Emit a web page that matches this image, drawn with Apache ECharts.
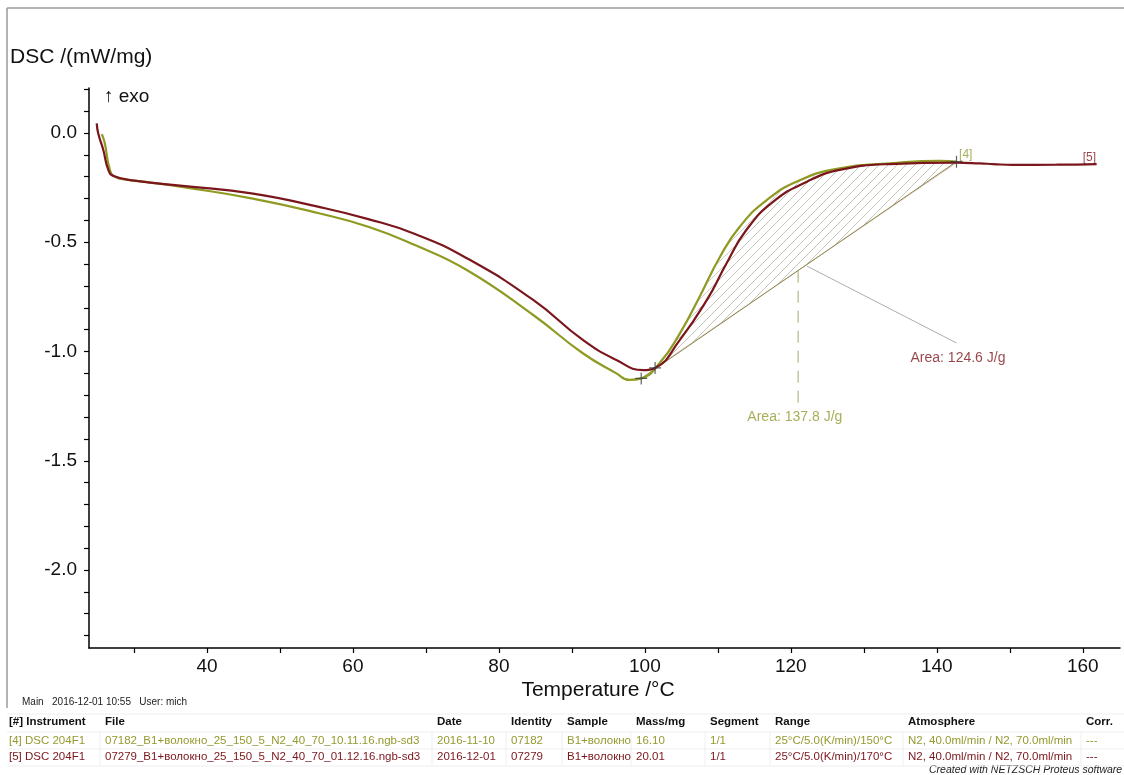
<!DOCTYPE html>
<html>
<head>
<meta charset="utf-8">
<script src="https://cdn.jsdelivr.net/npm/echarts@6/dist/echarts.min.js"></script>
<style>
html,body{margin:0;padding:0;background:#fff;}
#chart{width:1124px;height:775px;}
</style>
</head>
<body>
<div id="chart"></div>
<script>
// ---- data ----
const temp4 = [25.6, 26.0, 26.7, 27.4, 29.0, 32.4, 37.0, 46.1, 55.2, 62.1, 68.5, 75.6, 84.7, 91.5, 96.1, 97.9, 99.5, 102.0, 104.8, 107.5, 110.3, 113.0, 116.7, 121.3, 126.7, 133.6, 140.4, 142.7];
const dsc4  = [-0.005, -0.046, -0.169, -0.200, -0.213, -0.227, -0.249, -0.299, -0.366, -0.429, -0.513, -0.627, -0.833, -1.008, -1.100, -1.130, -1.123, -1.054, -0.917, -0.749, -0.566, -0.429, -0.307, -0.215, -0.162, -0.139, -0.127, -0.131];

const temp5 = [24.9, 25.1, 25.8, 26.5, 27.2, 30.1, 37.0, 46.1, 55.2, 62.1, 68.5, 75.6, 84.7, 91.5, 96.1, 99.8, 101.4, 104.8, 108.5, 111.2, 113.9, 117.6, 122.2, 126.7, 133.6, 142.7, 145.9, 147.7, 150.4, 156.4, 161.9];
const dsc5  = [0.044, -0.001, -0.078, -0.170, -0.197, -0.218, -0.243, -0.276, -0.337, -0.394, -0.462, -0.573, -0.764, -0.947, -1.039, -1.085, -1.075, -0.947, -0.764, -0.596, -0.444, -0.314, -0.223, -0.169, -0.142, -0.136, -0.139, -0.142, -0.146, -0.145, -0.142];

// integration limits (temperatures on each curve)
const limits4 = [99.5, 142.7];
const limits5 = [101.4, 142.7];

const xTickValues  = [30, 40, 50, 60, 70, 80, 90, 100, 110, 120, 130, 140, 150, 160];
const xLabelValues = [40, 60, 80, 100, 120, 140, 160];
const yTickValues  = [0.2, 0.1, 0.0, -0.1, -0.2, -0.3, -0.4, -0.5, -0.6, -0.7, -0.8, -0.9, -1.0, -1.1, -1.2, -1.3, -1.4, -1.5, -1.6, -1.7, -1.8, -1.9, -2.0, -2.1, -2.2, -2.3];
const yLabelValues = [0.0, -0.5, -1.0, -1.5, -2.0];

// annotations
const areaLabel4 = {text: 'Area: 137.8 J/g', at: [120.55, -1.300]};
const areaLabel5 = {text: 'Area: 124.6 J/g', at: [142.9, -1.030]};
const leader4 = [[121.0, -0.630], [121.0, -1.240]];
const leader5 = [[122.2, -0.609], [142.7, -0.961]];
const curveTag4 = {text: '[4]', at: [143.97, -0.101]};
const curveTag5 = {text: '[5]', at: [160.9, -0.114]};

const tableHeader = ['[#] Instrument', 'File', 'Date', 'Identity', 'Sample', 'Mass/mg', 'Segment', 'Range', 'Atmosphere', 'Corr.'];
const tableRow4 = ['[4] DSC 204F1', '07182_B1+волокно_25_150_5_N2_40_70_10.11.16.ngb-sd3', '2016-11-10', '07182', 'B1+волокно', '16.10', '1/1', '25°C/5.0(K/min)/150°C', 'N2, 40.0ml/min / N2, 70.0ml/min', '---'];
const tableRow5 = ['[5] DSC 204F1', '07279_B1+волокно_25_150_5_N2_40_70_01.12.16.ngb-sd3', '2016-12-01', '07279', 'B1+волокно', '20.01', '1/1', '25°C/5.0(K/min)/170°C', 'N2, 40.0ml/min / N2, 70.0ml/min', '---'];

// ---- styling ----
const OLIVE = '#8f9a22';
const OLIVE_TXT = '#949a2e';
const RED = '#7a161c';
const FONT = '"Liberation Sans", Arial, sans-serif';
const colX = [9, 105, 437, 511, 567, 636, 710, 775, 908, 1086];

function pairs(t, v) { return t.map((x, i) => [x, v[i]]); }
function pointAt(t, v, T) { const i = t.indexOf(T); return [t[i], v[i]]; }

// hatch pattern
const pat = document.createElement('canvas');
pat.width = 9; pat.height = 9;
(function () {
  const c = pat.getContext('2d');
  c.strokeStyle = '#c3c3b6';
  c.lineWidth = 0.8;
  c.beginPath();
  c.moveTo(0, 9); c.lineTo(9, 0);
  c.moveTo(-1, 1); c.lineTo(1, -1);
  c.moveTo(8, 10); c.lineTo(10, 8);
  c.stroke();
})();

function hatchSeries(t, v, lim) {
  return {
    type: 'custom', silent: true, z: 1,
    data: [[lim[0], v[t.indexOf(lim[0])]]],
    renderItem: function (params, api) {
      const pts = [];
      for (let i = 0; i < t.length; i++) {
        if (t[i] >= lim[0] && t[i] <= lim[1]) pts.push(api.coord([t[i], v[i]]));
      }
      return {type: 'polygon', shape: {points: pts}, style: {fill: {image: pat, repeat: 'repeat'}, stroke: 'none'}};
    }
  };
}

const crossSymbol = 'path://M0,6L12,6M6,0L6,12';

const graphics = [];
// frame
graphics.push({type: 'line', shape: {x1: 7, y1: 8, x2: 1124, y2: 8}, style: {stroke: '#9a9a9a', lineWidth: 1.5}});
graphics.push({type: 'line', shape: {x1: 7, y1: 8, x2: 7, y2: 708}, style: {stroke: '#9a9a9a', lineWidth: 1.5}});
// axis titles
graphics.push({type: 'text', x: 10, y: 57, style: {text: 'DSC /(mW/mg)', font: '21px ' + FONT, fill: '#111', textVerticalAlign: 'middle'}});
graphics.push({type: 'text', x: 104, y: 97, style: {text: '↑ exo', font: '19px ' + FONT, fill: '#111', textVerticalAlign: 'middle'}});
graphics.push({type: 'text', x: 598, y: 690, style: {text: 'Temperature /°C', font: '21px ' + FONT, fill: '#111', textAlign: 'center', textVerticalAlign: 'middle'}});
// footer
graphics.push({type: 'text', x: 22, y: 702, style: {text: 'Main   2016-12-01 10:55   User: mich', font: '10px ' + FONT, fill: '#222', textVerticalAlign: 'middle'}});
graphics.push({type: 'text', x: 929, y: 770, style: {text: 'Created with NETZSCH Proteus software', font: 'italic 10.5px ' + FONT, fill: '#222', textVerticalAlign: 'middle'}});
// table lines
[714, 732, 749, 766].forEach(y => graphics.push({type: 'line', shape: {x1: 7, y1: y, x2: 1124, y2: y}, style: {stroke: '#efefef', lineWidth: 1}}));
colX.slice(1).forEach(x => graphics.push({type: 'line', shape: {x1: x - 5, y1: 732, x2: x - 5, y2: 766}, style: {stroke: '#efefef', lineWidth: 1}}));
// table text
tableHeader.forEach((s, i) => graphics.push({type: 'text', x: colX[i], y: 722, style: {text: s, font: 'bold 11.5px ' + FONT, fill: '#111', textVerticalAlign: 'middle'}}));
tableRow4.forEach((s, i) => graphics.push({type: 'text', x: colX[i], y: 741, style: {text: s, font: '11.5px ' + FONT, fill: OLIVE_TXT, textVerticalAlign: 'middle'}}));
tableRow5.forEach((s, i) => graphics.push({type: 'text', x: colX[i], y: 757, style: {text: s, font: '11.5px ' + FONT, fill: RED, textVerticalAlign: 'middle'}}));

function textMark(obj, color, size, pos) {
  return {
    type: 'scatter', silent: true, symbolSize: 1, z: 6,
    itemStyle: {color: 'rgba(0,0,0,0)'},
    data: [obj.at],
    label: {show: true, position: pos, formatter: obj.text, color: color, fontSize: size, fontFamily: FONT}
  };
}

const option = {
  animation: false,
  backgroundColor: '#fff',
  textStyle: {fontFamily: FONT},
  grid: {left: 89, right: 4, top: 88, bottom: 127},
  xAxis: {
    type: 'value', min: 23.84, max: 165.1,
    axisLine: {onZero: false, lineStyle: {color: '#000', width: 1.5}},
    axisTick: {show: true, length: 5, customValues: xTickValues, lineStyle: {color: '#000', width: 1.2}},
    axisLabel: {customValues: xLabelValues, fontSize: 19, color: '#111', margin: 9},
    splitLine: {show: false}
  },
  yAxis: {
    type: 'value', min: -2.357, max: 0.206,
    axisLine: {show: true, onZero: false, lineStyle: {color: '#000', width: 1.5}},
    axisTick: {show: true, length: 5, customValues: yTickValues, lineStyle: {color: '#000', width: 1.2}},
    axisLabel: {customValues: yLabelValues, fontSize: 19, color: '#111', margin: 12,
      formatter: v => (Math.abs(v) < 1e-9 ? '0.0' : v.toFixed(1))},
    splitLine: {show: false}
  },
  graphic: graphics,
  series: [
    hatchSeries(temp4, dsc4, limits4),
    hatchSeries(temp5, dsc5, limits5),
    {type: 'line', silent: true, z: 2, symbol: 'none',
     data: [pointAt(temp5, dsc5, limits5[0]), pointAt(temp5, dsc5, limits5[1])],
     lineStyle: {color: '#d2b4b4', width: 0.8}},
    {type: 'line', silent: true, z: 2, symbol: 'none',
     data: [pointAt(temp4, dsc4, limits4[0]), pointAt(temp4, dsc4, limits4[1])],
     lineStyle: {color: '#8d8a4a', width: 1}},
    {type: 'line', name: '[4]', silent: true, z: 3, symbol: 'none', smooth: 0.5,
     data: pairs(temp4, dsc4), lineStyle: {color: OLIVE, width: 2.2}},
    {type: 'line', name: '[5]', silent: true, z: 4, symbol: 'none', smooth: 0.5,
     data: pairs(temp5, dsc5), lineStyle: {color: RED, width: 2.2}},
    {type: 'scatter', silent: true, z: 5, symbol: crossSymbol, symbolSize: 12,
     itemStyle: {color: 'rgba(0,0,0,0)', borderColor: '#3a3a3a', borderWidth: 1.2},
     data: [pointAt(temp4, dsc4, limits4[0]), pointAt(temp5, dsc5, limits5[0]), pointAt(temp4, dsc4, limits4[1])]},
    {type: 'line', silent: true, z: 2, symbol: 'none', data: leader4,
     lineStyle: {color: '#a8a870', width: 1, type: [12, 8]}},
    {type: 'line', silent: true, z: 2, symbol: 'none', data: leader5,
     lineStyle: {color: '#8a8a8a', width: 0.7}},
    textMark(areaLabel4, OLIVE_TXT, 14, 'inside'),
    textMark(areaLabel5, RED, 14, 'inside'),
    textMark(curveTag4, OLIVE_TXT, 12, 'inside'),
    textMark(curveTag5, RED, 12, 'inside')
  ]
};

const chart = echarts.init(document.getElementById('chart'), null, {renderer: 'canvas'});
chart.setOption(option);
</script>
</body>
</html>
